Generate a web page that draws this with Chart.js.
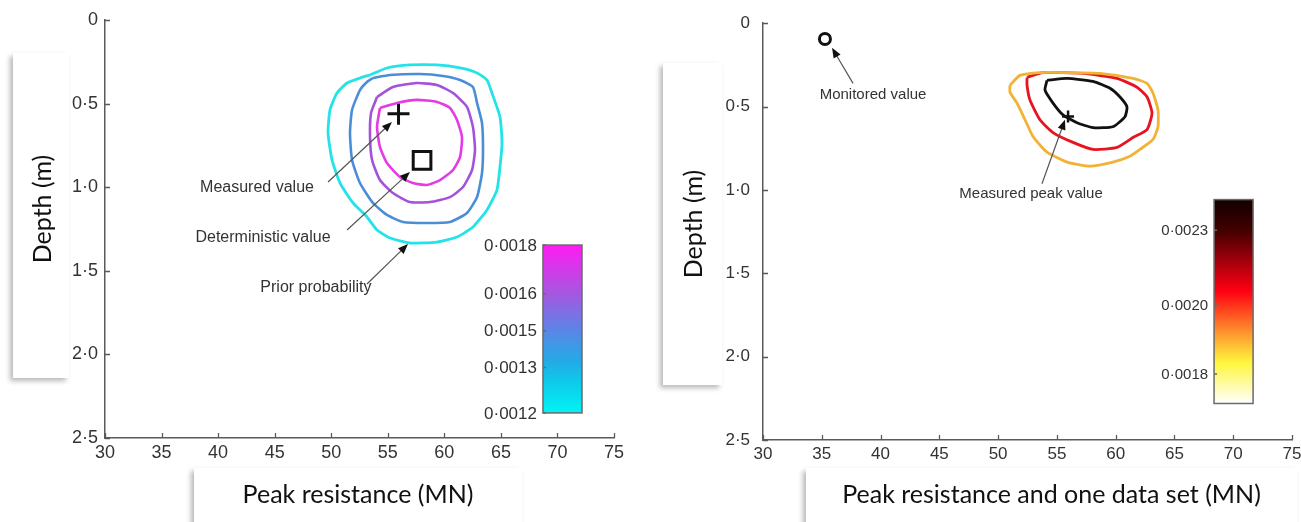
<!DOCTYPE html>
<html>
<head>
<meta charset="utf-8">
<script src="https://cdn.jsdelivr.net/npm/chart.js@4.4.1/dist/chart.umd.min.js"></script>
<style>
    html, body { margin: 0; padding: 0; background: #fff; }
    body { width: 1301px; height: 522px; position: relative; overflow: hidden; }
    canvas { position: absolute; top: 0; }
    #cvLeft { left: 0; }
    #cvRight { left: 650px; }
    .tbox {
        position: absolute;
        background: #fff;
        box-shadow: -3px 3px 5px rgba(0, 0, 0, 0.28);
        color: #111;
        font-family: Lato, "Open Sans", sans-serif;
        font-size: 25px;
        display: flex;
        justify-content: center;
        white-space: nowrap;
    }
    .tbox.vert { align-items: center; }
    .tbox.vert span { transform: rotate(-90deg); display: block; }
    .tbox.horiz { align-items: flex-start; padding-top: 10px; box-sizing: border-box; }
</style>
</head>
<body>
<canvas id="cvLeft" width="650" height="522"></canvas>
<canvas id="cvRight" width="660" height="522"></canvas>

<div class="tbox vert" style="left:13px; top:53px; width:56px; height:325px;"><span style="margin-top:-14px">Depth (m)</span></div>
<div class="tbox horiz" style="left:194px; top:468px; width:328px; height:64px;">Peak resistance (MN)</div>
<div class="tbox vert" style="left:663px; top:63px; width:59px; height:322px;"><span>Depth (m)</span></div>
<div class="tbox horiz" style="left:806px; top:468px; width:491px; height:64px;">Peak resistance and one data set (MN)</div>

<script>
// ─── Data ─────────────────────────────────────────────────────────────────────

const xTicks = [30, 35, 40, 45, 50, 55, 60, 65, 70, 75];
const depthTicks = [0, 0.5, 1.0, 1.5, 2.0, 2.5];

// Left panel: prior probability contours (peak resistance MN, depth m)
const cyanX = [53.43, 54.93, 56.96, 59.35, 61.39, 62.89, 63.77, 64.21, 64.92, 65.10, 64.92, 64.65, 63.77, 62.53, 61.12, 59.35, 56.96, 55.20, 54.05, 53.16, 51.93, 50.78, 50.07, 49.72, 49.89, 50.51, 51.40, 52.54];
const cyanY = [0.329, 0.287, 0.269, 0.269, 0.287, 0.317, 0.359, 0.437, 0.580, 0.736, 0.879, 1.017, 1.136, 1.238, 1.298, 1.328, 1.334, 1.304, 1.256, 1.178, 1.094, 0.975, 0.837, 0.676, 0.538, 0.437, 0.377, 0.347];

const blueX = [53.69, 55.20, 57.85, 59.88, 61.39, 62.53, 62.89, 63.33, 63.42, 63.33, 62.89, 62.00, 60.50, 58.47, 56.35, 54.93, 53.69, 52.54, 51.84, 51.66, 51.84, 52.54, 53.16];
const blueY = [0.347, 0.329, 0.323, 0.335, 0.359, 0.401, 0.496, 0.616, 0.778, 0.915, 1.059, 1.154, 1.208, 1.214, 1.208, 1.166, 1.094, 0.975, 0.837, 0.676, 0.538, 0.419, 0.371];

const purpleX = [54.05, 55.46, 57.58, 59.35, 60.77, 62.00, 62.53, 62.71, 62.45, 61.65, 60.50, 58.73, 56.96, 55.46, 54.31, 53.61, 53.43, 53.52];
const purpleY = [0.461, 0.401, 0.377, 0.389, 0.437, 0.520, 0.640, 0.778, 0.897, 0.999, 1.059, 1.089, 1.089, 1.035, 0.957, 0.837, 0.700, 0.556];

const magentaX = [54.31, 55.82, 57.58, 59.35, 60.50, 61.12, 61.56, 61.39, 60.77, 59.62, 58.47, 57.23, 56.08, 54.93, 54.31, 54.05];
const magentaY = [0.526, 0.496, 0.478, 0.490, 0.526, 0.598, 0.700, 0.819, 0.897, 0.957, 0.987, 0.975, 0.939, 0.855, 0.760, 0.640];

const measuredPt = [55.95, 0.56];
const deterministicPt = [58.03, 0.84];

// Right panel: posterior contours with one data set
const orangeX = [51.01, 51.86, 53.56, 55.86, 58.67, 61.47, 62.67, 63.18, 63.60, 63.60, 63.18, 62.07, 61.21, 59.77, 57.82, 55.86, 54.16, 52.97, 52.29, 51.61, 51.01];
const orangeY = [0.372, 0.313, 0.296, 0.296, 0.301, 0.331, 0.361, 0.420, 0.520, 0.621, 0.697, 0.757, 0.798, 0.833, 0.857, 0.833, 0.774, 0.680, 0.579, 0.479, 0.414];

const redX = [52.46, 53.82, 57.22, 60.11, 61.81, 62.67, 63.09, 62.67, 61.47, 60.11, 58.07, 56.37, 54.67, 53.56, 52.71, 52.46];
const redY = [0.325, 0.296, 0.301, 0.331, 0.384, 0.443, 0.538, 0.638, 0.686, 0.745, 0.757, 0.715, 0.656, 0.579, 0.461, 0.372];

const blackX = [54.16, 55.86, 58.07, 59.52, 60.37, 60.96, 60.79, 59.77, 58.07, 56.71, 55.52, 54.67, 53.99];
const blackY = [0.343, 0.331, 0.349, 0.390, 0.443, 0.502, 0.561, 0.621, 0.626, 0.597, 0.550, 0.479, 0.402];

const monitoredPt = [35.27, 0.095];
const peakPt = [55.95, 0.56];

// Colour bar labels (contour levels)
const priorLevels = ["0·0018", "0·0016", "0·0015", "0·0013", "0·0012"];
const postLevels = ["0·0023", "0·0020", "0·0018"];

// Annotations: text, text anchor, arrow start, arrow tip (data units)
const priorNotes = [
    { text: "Measured value",      at: [43.44, 1.000], from: [49.72, 0.969], to: [55.37, 0.610] },
    { text: "Deterministic value", at: [43.97, 1.304], from: [51.40, 1.256], to: [56.96, 0.909] },
    { text: "Prior probability",   at: [48.65, 1.603], from: [53.16, 1.579], to: [56.79, 1.340] },
];
const postNotes = [
    { text: "Monitored value",     at: [39.36, 0.431], from: [37.66, 0.361], to: [35.87, 0.148] },
    { text: "Measured peak value", at: [52.80, 1.022], from: [53.73, 0.963], to: [55.69, 0.579] },
];

// ─── Helpers ──────────────────────────────────────────────────────────────────

function loop(xs, ys) {
    const pts = xs.map((x, i) => ({ x, y: ys[i] }));
    pts.push({ x: xs[0], y: ys[0] });
    return pts;
}

function contour(xs, ys, color, width) {
    return {
        data: loop(xs, ys),
        showLine: true,
        borderColor: color,
        borderWidth: width,
        pointRadius: 0,
        tension: 0.18,
        fill: false,
    };
}

function marker(pt, style, radius, width, bg) {
    return {
        data: [{ x: pt[0], y: pt[1] }],
        pointStyle: style,
        pointRadius: radius,
        borderColor: "#111",
        backgroundColor: bg || "rgba(0,0,0,0)",
        pointBorderWidth: width,
        showLine: false,
    };
}

function fmtDepth(v) {
    if (v === 0) return "0";
    return v.toFixed(1).replace(".", "·");
}

// inward tick marks like the original plot
const innerTicks = {
    id: "innerTicks",
    afterDraw(chart) {
        const { ctx, chartArea, scales } = chart;
        ctx.save();
        ctx.strokeStyle = "#5a5a5a";
        ctx.lineWidth = 1.3;
        ctx.beginPath();
        scales.x.ticks.forEach(t => {
            const px = Math.round(scales.x.getPixelForValue(t.value)) + 0.5;
            ctx.moveTo(px, chartArea.bottom);
            ctx.lineTo(px, chartArea.bottom - 5);
        });
        scales.y.ticks.forEach(t => {
            const py = Math.round(scales.y.getPixelForValue(t.value)) + 0.5;
            ctx.moveTo(chartArea.left, py);
            ctx.lineTo(chartArea.left + 5, py);
        });
        ctx.stroke();
        ctx.restore();
    },
};

const notes = {
    id: "notes",
    afterDatasetsDraw(chart, args, opts) {
        if (!opts.items) return;
        const { ctx, scales } = chart;
        const X = v => scales.x.getPixelForValue(v);
        const Y = v => scales.y.getPixelForValue(v);
        ctx.save();
        opts.items.forEach(n => {
            const x0 = X(n.from[0]), y0 = Y(n.from[1]);
            const x1 = X(n.to[0]), y1 = Y(n.to[1]);
            const ang = Math.atan2(y1 - y0, x1 - x0);
            const hl = 10, hw = 4;
            ctx.strokeStyle = "#555";
            ctx.lineWidth = 1.2;
            ctx.beginPath();
            ctx.moveTo(x0, y0);
            ctx.lineTo(x1 - Math.cos(ang) * hl * 0.8, y1 - Math.sin(ang) * hl * 0.8);
            ctx.stroke();
            ctx.fillStyle = "#111";
            ctx.beginPath();
            ctx.moveTo(x1, y1);
            ctx.lineTo(x1 - Math.cos(ang) * hl - Math.sin(ang) * hw, y1 - Math.sin(ang) * hl + Math.cos(ang) * hw);
            ctx.lineTo(x1 - Math.cos(ang) * hl + Math.sin(ang) * hw, y1 - Math.sin(ang) * hl - Math.cos(ang) * hw);
            ctx.closePath();
            ctx.fill();

            ctx.fillStyle = "#333";
            ctx.font = opts.font;
            ctx.textAlign = "center";
            ctx.textBaseline = "middle";
            ctx.fillText(n.text, X(n.at[0]), Y(n.at[1]));
        });
        ctx.restore();
    },
};

const colorbar = {
    id: "colorbar",
    afterDatasetsDraw(chart, args, opts) {
        if (!opts.box) return;
        const { ctx, scales } = chart;
        const l = scales.x.getPixelForValue(opts.box[0]);
        const r = scales.x.getPixelForValue(opts.box[1]);
        const t = scales.y.getPixelForValue(opts.box[2]);
        const b = scales.y.getPixelForValue(opts.box[3]);
        ctx.save();
        const g = ctx.createLinearGradient(0, t, 0, b);
        opts.stops.forEach(s => g.addColorStop(s[0], s[1]));
        ctx.fillStyle = g;
        ctx.fillRect(l, t, r - l, b - t);
        ctx.strokeStyle = "#6a6a6a";
        ctx.lineWidth = 1.5;
        ctx.strokeRect(l, t, r - l, b - t);

        ctx.font = opts.font;
        ctx.fillStyle = "#333";
        ctx.textAlign = "right";
        ctx.textBaseline = "middle";
        ctx.beginPath();
        opts.labels.forEach((txt, i) => {
            const py = t + (b - t) * opts.fracs[i];
            ctx.fillText(txt, l - 6, py + 1);
            ctx.moveTo(l, py);
            ctx.lineTo(l + 3, py);
        });
        ctx.stroke();
        ctx.restore();
    },
};

function makeChart(id, datasets, cfg) {
    return new Chart(document.getElementById(id), {
        type: "scatter",
        data: { datasets },
        plugins: [innerTicks, notes, colorbar],
        options: {
            responsive: false,
            animation: false,
            events: [],
            layout: { padding: cfg.padding },
            plugins: {
                legend: { display: false },
                tooltip: { enabled: false },
                notes: { items: cfg.notes, font: cfg.noteFont },
                colorbar: cfg.colorbar,
            },
            scales: {
                x: {
                    type: "linear",
                    min: 30,
                    max: 75,
                    afterBuildTicks: s => { s.ticks = xTicks.map(v => ({ value: v })); },
                    afterFit: s => { s.height = 40; },
                    grid: { display: false, drawTicks: false },
                    border: { display: true, color: "#5a5a5a", width: 1.5 },
                    ticks: {
                        padding: 4,
                        color: "#333",
                        font: { family: "'Liberation Sans', Arial, sans-serif", size: cfg.tickSize },
                        maxRotation: 0,
                    },
                },
                y: {
                    type: "linear",
                    reverse: true,
                    min: 0,
                    max: 2.5,
                    afterBuildTicks: s => { s.ticks = depthTicks.map(v => ({ value: v })); },
                    afterFit: s => { s.width = cfg.yWidth; },
                    grid: { display: false, drawTicks: false },
                    border: { display: true, color: "#5a5a5a", width: 1.5 },
                    ticks: {
                        padding: cfg.yPad,
                        color: "#333",
                        font: { family: "'Liberation Sans', Arial, sans-serif", size: cfg.tickSize },
                        callback: v => fmtDepth(v),
                    },
                },
            },
        },
    });
}

// ─── Left: prior probability ──────────────────────────────────────────────────

makeChart("cvLeft", [
    contour(cyanX, cyanY, "#22e3e8", 2.8),
    contour(blueX, blueY, "#4a8ed8", 2.6),
    contour(purpleX, purpleY, "#a452dc", 2.6),
    contour(magentaX, magentaY, "#e43ce4", 2.6),
    marker(measuredPt, "cross", 11, 3),
    marker(deterministicPt, "rect", 12.5, 3),
], {
    padding: { left: 0, right: 36, top: 20, bottom: 44 },
    yWidth: 105,
    yPad: 7,
    tickSize: 18,
    noteFont: "16px 'Liberation Sans', Arial, sans-serif",
    notes: priorNotes,
    colorbar: {
        box: [68.72, 72.17, 1.346, 2.350],
        stops: [[0, "#ff1cf2"], [0.28, "#a855e0"], [0.5, "#5d84e6"], [0.7, "#22ace6"], [0.8, "#10c6ea"], [1, "#00f4f4"]],
        labels: priorLevels,
        fracs: [0, 0.29, 0.51, 0.73, 1],
        font: "17px 'Liberation Sans', Arial, sans-serif",
    },
});

// ─── Right: with one data set ─────────────────────────────────────────────────

makeChart("cvRight", [
    contour(orangeX, orangeY, "#f2b234", 2.8),
    contour(redX, redY, "#e8141f", 2.8),
    contour(blackX, blackY, "#111111", 2.8),
    marker(monitoredPt, "circle", 5.5, 3, "#fff"),
    marker(peakPt, "cross", 6, 2.5),
], {
    padding: { left: 0, right: 18, top: 17, bottom: 42 },
    yWidth: 113,
    yPad: 13,
    tickSize: 17,
    noteFont: "15px 'Liberation Sans', Arial, sans-serif",
    notes: postNotes,
    colorbar: {
        box: [68.37, 71.69, 1.058, 2.281],
        stops: [[0, "#120000"], [0.15, "#420000"], [0.35, "#c2000e"], [0.45, "#ff0012"], [0.55, "#ff4a1e"], [0.66, "#ff9a30"], [0.8, "#fff63c"], [1, "#ffffff"]],
        labels: postLevels,
        fracs: [0.15, 0.515, 0.855],
        font: "15px 'Liberation Sans', Arial, sans-serif",
    },
});
</script>
</body>
</html>
